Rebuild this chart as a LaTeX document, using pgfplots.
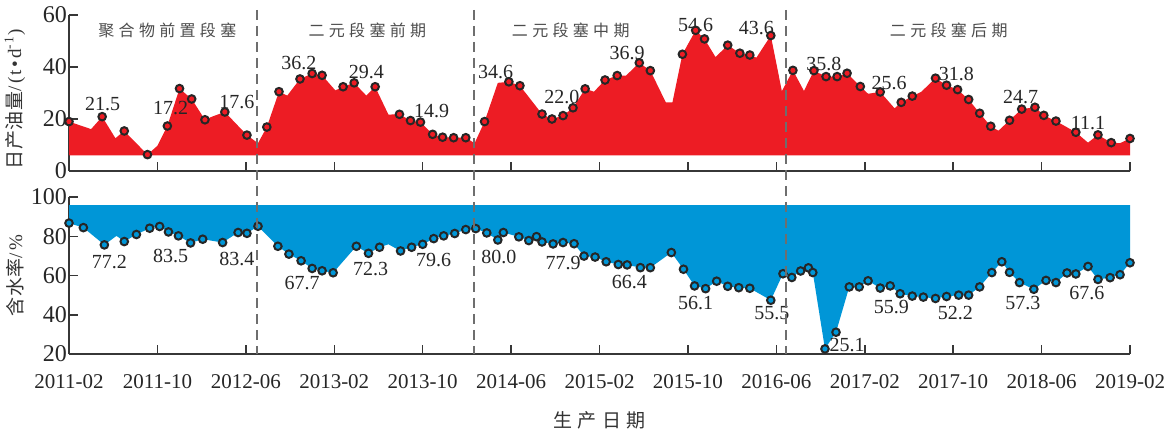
\documentclass[border=0pt]{standalone}
\usepackage{pgfplots}
\pgfplotsset{compat=1.18}
\usepackage{pgfplotstable}
\usepackage{fontspec}
\setmainfont{Liberation Serif}
\newfontfamily\cjk[LetterSpace=27]{Noto Sans CJK SC}
\newfontfamily\cjklab[LetterSpace=3]{Noto Sans CJK SC}
\newfontfamily\serls[LetterSpace=12]{Liberation Serif}

\definecolor{oilred}{RGB}{237,28,36}
\definecolor{wcblue}{RGB}{0,150,215}
\definecolor{axgray}{RGB}{55,55,55}
\definecolor{dashgray}{RGB}{110,110,110}

% daily oil (t/d); x = months since 2011-02, m = 1 where a marker is drawn
\pgfplotstableread{
x y m
0 6 0
0 19.0 1
2.0 16.1 0
3.0 20.9 1
4.2 12.6 0
5.0 15.4 1
7.1 6.3 1
8.0 9.7 0
8.9 17.3 1
10.0 31.7 1
11.1 27.7 1
12.3 19.7 1
13.0 21.0 0
14.1 22.7 1
16.1 13.8 1
17.1 10.7 0
17.9 16.9 1
19.0 30.5 1
19.75 29.0 0
20.9 35.4 1
22.0 37.5 1
22.9 36.8 1
24.1 31.0 0
24.8 32.4 1
25.8 33.9 1
26.9 29.0 0
27.7 32.4 1
28.9 21.7 0
29.9 21.8 1
30.9 19.4 1
31.8 18.8 1
32.9 14.1 1
33.8 13.0 1
34.8 12.8 1
35.9 12.8 1
36.7 10.7 0
37.6 19.0 1
38.8 33.9 0
39.8 34.3 1
40.8 32.8 1
42.8 21.9 1
43.7 20.0 1
44.7 21.3 1
45.6 24.3 1
46.7 31.6 1
47.5 30.5 0
48.5 35.0 1
49.6 36.7 1
50.4 36.7 0
51.6 41.6 1
52.6 38.6 1
54.0 26.4 0
54.6 26.4 0
55.5 44.9 1
56.7 54.1 1
57.5 50.8 1
58.5 43.8 0
59.6 48.4 1
60.7 45.3 1
61.6 44.6 1
62.2 43.6 0
63.5 52.1 1
64.5 30.7 0
65.5 38.7 1
66.5 30.8 0
67.4 38.6 1
68.5 36.3 1
69.5 36.3 1
70.4 37.6 1
71.6 32.5 1
72.3 29.7 0
73.4 30.4 1
74.7 24.1 0
75.3 26.4 1
76.3 28.8 1
77.1 30.4 0
78.4 35.7 1
79.4 33.0 1
80.4 31.3 1
81.4 27.5 1
82.4 22.2 1
83.4 17.2 1
84.1 15.5 0
85.1 19.5 1
86.2 23.8 1
87.4 24.5 1
88.2 21.4 1
89.3 19.2 1
91.1 14.9 1
92.2 10.9 0
93.1 13.9 1
94.3 10.9 1
95.1 10.7 0
96.0 12.5 1
96.0 6 0
}\oil

% water cut (%)
\pgfplotstableread{
x y m
0 95.8 0
0 86.7 1
1.3 84.4 1
3.2 75.6 1
4.3 80.2 0
5.0 77.3 1
6.1 80.9 1
7.3 84.1 1
8.2 85.0 1
9.0 82.2 1
9.9 80.2 1
11.0 76.6 1
12.1 78.5 1
13.9 76.8 1
15.3 81.9 1
16.1 81.5 1
17.1 85.1 1
18.9 74.9 1
19.9 70.9 1
21.0 67.5 1
22.0 63.6 1
22.9 62.4 1
23.9 61.4 1
26.0 74.9 1
27.1 71.3 1
28.1 74.4 1
28.9 75.9 0
30.0 72.5 1
31.0 74.4 1
32.0 75.9 1
33.0 78.8 1
33.9 80.2 1
34.9 81.4 1
35.9 83.4 1
36.8 83.9 1
37.8 81.7 1
38.8 78.1 1
39.3 81.9 1
40.7 79.7 1
41.6 77.8 1
42.3 79.8 1
42.8 77.1 1
43.8 76.1 1
44.7 76.8 1
45.7 76.2 1
46.6 69.9 1
47.6 69.4 1
48.6 67.0 1
49.7 65.6 1
50.5 65.4 1
51.7 64.0 1
52.6 64.0 1
54.5 71.7 1
55.6 63.2 1
56.6 54.7 1
57.6 53.3 1
58.6 57.1 1
59.6 54.5 1
60.6 53.8 1
61.6 53.5 1
63.5 47.4 1
64.6 60.9 1
65.4 59.0 1
66.2 62.3 1
66.9 63.9 1
67.3 61.5 1
68.4 22.6 1
69.4 31.1 1
70.6 54.2 1
71.5 54.2 1
72.3 57.3 1
73.4 53.6 1
74.3 54.7 1
75.2 50.7 1
76.3 49.5 1
77.3 49.0 1
78.4 48.3 1
79.4 49.3 1
80.5 50.0 1
81.4 50.0 1
82.4 54.2 1
83.5 61.5 1
84.4 67.0 1
85.1 61.6 1
86.0 56.4 1
87.3 53.0 1
88.4 57.5 1
89.3 56.4 1
90.3 61.3 1
91.1 60.8 1
92.2 64.6 1
93.1 58.0 1
94.2 58.9 1
95.1 60.4 1
96.0 66.5 1
96.0 95.8 0
}\wc

\tikzset{
  dl/.style={font=\fontsize{10}{10}\selectfont, text=black!85, inner sep=0pt},
  ph/.style={font=\cjk\fontsize{8}{8}\selectfont, text=black!70, inner sep=0pt},
}
\pgfplotsset{
  panel/.style={
    scale only axis, width=530.5pt,
    xmin=0, xmax=96, xtick={0,8,...,96},
    axis x line*=bottom, axis y line*=left,
    axis line style={axgray, line width=0.75pt, -},
    tick style={axgray, line width=0.75pt},
    tick align=inside, major tick length=4.5pt,
    clip=false,
    /pgf/number format/assume math mode=true,
    yticklabel style={font=\fontsize{12}{12}\selectfont, xshift=2.5pt, text=black!85},
    ylabel style={anchor=center, font=\fontsize{9.5}{9.5}\selectfont, text=black!80},
  },
  mk/.style={only marks, mark=*, mark size=1.9pt,
    mark options={fill=#1, draw=black!85, line width=1pt},
    restrict expr to domain={\thisrow{m}}{0.5:1.5}},
}

\begin{document}
\begin{tikzpicture}
% upper panel: daily oil production
\begin{axis}[panel, name=top, at={(0,0)}, anchor=south west,
  height=78pt, ymin=0, ymax=60, ytick={0,20,40,60},
  xticklabels={},
  ylabel style={at={(axis description cs:-0.051,0.46)}},
  ylabel={{\cjklab 日产油量}{\serls /(t•d\textsuperscript{-1})}}]
\addplot[fill=oilred, draw=none, mark=none] table[x=x, y=y] {\oil};
\addplot[mk=oilred] table[x=x, y=y] {\oil};
\node[ph] at (axis cs:8.9,53.9) {聚合物前置段塞};
\node[ph] at (axis cs:27.0,53.9) {二元段塞前期};
\node[ph] at (axis cs:45.4,53.9) {二元段塞中期};
\node[ph] at (axis cs:79.6,53.9) {二元段塞后期};
\node[dl] at (axis cs:3.05,25.8) {21.5};
\node[dl] at (axis cs:9.2,24.1) {17.2};
\node[dl] at (axis cs:15.2,26.7) {17.6};
\node[dl] at (axis cs:20.8,41.7) {36.2};
\node[dl] at (axis cs:26.9,38.2) {29.4};
\node[dl] at (axis cs:32.8,23.2) {14.9};
\node[dl] at (axis cs:38.6,38.2) {34.6};
\node[dl] at (axis cs:44.6,28.6) {22.0};
\node[dl] at (axis cs:50.5,45.3) {36.9};
\node[dl] at (axis cs:56.7,56.2) {54.6};
\node[dl] at (axis cs:62.2,55.1) {43.6};
\node[dl] at (axis cs:68.3,41.2) {35.8};
\node[dl] at (axis cs:74.2,34.0) {25.6};
\node[dl] at (axis cs:80.3,37.3) {31.8};
\node[dl] at (axis cs:86.1,28.3) {24.7};
\node[dl] at (axis cs:92.2,18.6) {11.1};
\coordinate (d1t) at (axis cs:17.05,62);
\coordinate (d2t) at (axis cs:36.65,62);
\coordinate (d3t) at (axis cs:64.9,62);
\end{axis}

% lower panel: water cut
\begin{axis}[panel, name=bot, at={(0,-13pt)}, anchor=north west,
  height=78.5pt, ymin=20, ymax=100, ytick={20,40,...,100},
  xticklabels={2011-02,2011-10,2012-06,2013-02,2013-10,2014-06,2015-02,2015-10,2016-06,2017-02,2017-10,2018-06,2019-02},
  xticklabel style={font=\fontsize{10.5}{10.5}\selectfont, yshift=-6.5pt, text=black!85},
  ylabel style={at={(axis description cs:-0.051,0.5)}},
  ylabel={{\cjklab 含水率}{\serls /\%}},
  xlabel={\cjk\fontsize{9.5}{9.5}\selectfont 生产日期},
  xlabel style={at={(axis description cs:0.5,0)}, anchor=center, yshift=-33pt, text=black!80}]
\addplot[fill=wcblue, draw=none, mark=none] table[x=x, y=y] {\wc};
\addplot[mk=wcblue] table[x=x, y=y] {\wc};
\node[dl] at (axis cs:3.65,67.0) {77.2};
\node[dl] at (axis cs:9.2,69.9) {83.5};
\node[dl] at (axis cs:15.2,68.3) {83.4};
\node[dl] at (axis cs:21.1,56.0) {67.7};
\node[dl] at (axis cs:27.3,63.2) {72.3};
\node[dl] at (axis cs:33.0,67.9) {79.6};
\node[dl] at (axis cs:38.9,69.6) {80.0};
\node[dl] at (axis cs:44.7,66.2) {77.9};
\node[dl] at (axis cs:50.7,56.8) {66.4};
\node[dl] at (axis cs:56.7,45.8) {56.1};
\node[dl] at (axis cs:63.6,40.7) {55.5};
\node[dl] at (axis cs:70.4,24.6) {25.1};
\node[dl] at (axis cs:74.4,44.1) {55.9};
\node[dl] at (axis cs:80.2,40.7) {52.2};
\node[dl] at (axis cs:86.3,46.1) {57.3};
\node[dl] at (axis cs:92.1,51.2) {67.6};
\coordinate (d1b) at (axis cs:17.05,20);
\coordinate (d2b) at (axis cs:36.65,20);
\coordinate (d3b) at (axis cs:64.9,20);
\end{axis}

% stage boundaries through both panels
\begin{scope}[dashgray, line width=1pt, dash pattern=on 5pt off 3pt]
\draw (d1t) -- (d1b);
\draw (d2t) -- (d2b);
\draw (d3t) -- (d3b);
\end{scope}

\pgfresetboundingbox
\path (-34.5pt,-131pt) rectangle (550.5pt,85.5pt);
\end{tikzpicture}
\end{document}
